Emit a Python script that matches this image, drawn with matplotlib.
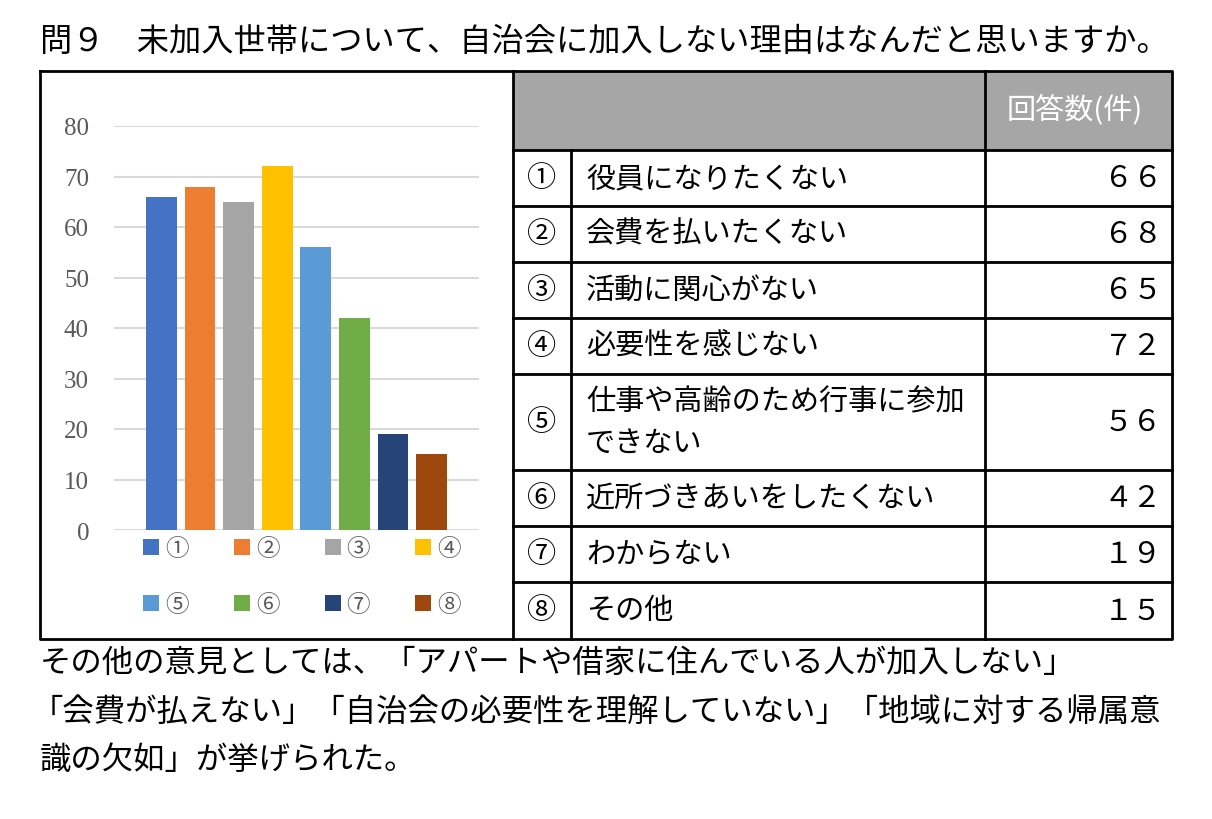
import matplotlib
matplotlib.use("Agg")
import matplotlib.pyplot as plt
from matplotlib.patches import Rectangle

plt.rcParams['font.family'] = ['Noto Sans CJK JP', 'DejaVu Sans']

# data
title = "問９　未加入世帯について、自治会に加入しない理由はなんだと思いますか。"
marks = ["①", "②", "③", "④", "⑤", "⑥", "⑦", "⑧"]
reasons = ["役員になりたくない", "会費を払いたくない", "活動に関心がない", "必要性を感じない",
           "仕事や高齢のため行事に参加\nできない", "近所づきあいをしたくない", "わからない", "その他"]
counts = [66, 68, 65, 72, 56, 42, 19, 15]
colors = ["#4472C4", "#ED7D31", "#A5A5A5", "#FFC000", "#5B9BD5", "#70AD47", "#264478", "#9E480E"]
yticks = [0, 10, 20, 30, 40, 50, 60, 70, 80]
header = "回答数(件)"
notes = ["その他の意見としては、「アパートや借家に住んでいる人が加入しない」",
         "「会費が払えない」「自治会の必要性を理解していない」「地域に対する帰属意",
         "識の欠如」が挙げられた。"]

W, H = 1212, 820
fig = plt.figure(figsize=(W / 100, H / 100), dpi=100)

# overlay axes in pixel units for the box, table and text
ov = fig.add_axes([0, 0, 1, 1])
ov.set_xlim(0, W)
ov.set_ylim(H, 0)
ov.axis('off')

ov.text(40, 42, title, fontsize=23.2, va='center', ha='left', color='black')

box_l, box_t, box_r, box_b = 40, 72, 1172, 640
div_x = 513
col1, col2 = 571, 985
row_edges = [151, 207, 263, 319, 375, 471, 527, 583, 640]

# header fill
ov.add_patch(Rectangle((div_x, box_t), box_r - div_x, row_edges[0] - box_t,
                       facecolor='#A6A6A6', edgecolor='none'))
ov.text((col2 + box_r) / 2 - 4, (box_t + row_edges[0]) / 2, header, color='white',
        fontsize=21, ha='center', va='center')

lw = 2
# outer box and divider
ov.plot([box_l, box_r, box_r, box_l, box_l], [box_t, box_t, box_b, box_b, box_t], color='black', lw=lw)
ov.plot([div_x, div_x], [box_t, box_b], color='black', lw=lw)
# table lines
for y in row_edges[:-1]:
    ov.plot([div_x, box_r], [y, y], color='black', lw=lw)
ov.plot([col1, col1], [row_edges[0], box_b], color='black', lw=lw)
ov.plot([col2, col2], [box_t, box_b], color='black', lw=lw)

fw = str.maketrans('0123456789', '０１２３４５６７８９')
for i in range(len(counts)):
    yc = (row_edges[i] + row_edges[i + 1]) / 2
    ov.text((div_x + col1) / 2, yc, marks[i], fontsize=21, ha='center', va='center')
    ov.text(col1 + 15, yc, reasons[i], fontsize=21, ha='left', va='center', linespacing=1.5)
    ov.text(box_r - 10, yc, str(counts[i]).translate(fw), fontsize=21, ha='right', va='center')

for k, line in enumerate(notes):
    ov.text(40 if k != 1 else 32, 663 + k * 48.5, line, fontsize=22.6, ha='left', va='center')

# bar chart
ax = fig.add_axes([114 / W, 1 - 531 / H, 365 / W, 404 / H])
bars = []
for i in range(len(counts)):
    b = ax.bar(i, counts[i], width=0.8, color=colors[i], label=marks[i], zorder=3)
    bars.append(b)
ax.set_xlim(-1.23, 8.23)
ax.set_ylim(0, 80)
ax.set_yticks(yticks)
ax.set_yticklabels([str(t) for t in yticks], fontfamily='Liberation Serif', fontsize=18, color='#595959')
ax.set_xticks([])
ax.tick_params(axis='y', length=0, pad=18)
ax.grid(axis='y', color='#D9D9D9', lw=1.5, zorder=0)
for s in ax.spines.values():
    s.set_visible(False)

# legend filled row by row (matplotlib fills columns first)
order = [0, 4, 1, 5, 2, 6, 3, 7]
leg = ax.legend([bars[j] for j in order], [marks[j] for j in order],
                ncol=4, loc='upper left', bbox_to_anchor=(0.08, -0.028, 0.87, 0.01),
                mode='expand', frameon=False, borderaxespad=0, borderpad=0,
                handlelength=0.68, handleheight=0.68, handletextpad=0.25,
                labelspacing=1.4, prop={'family': ['Noto Sans CJK JP'], 'size': 17})
for t in leg.get_texts():
    t.set_color('#595959')

fig.savefig("out.png", dpi=100)
